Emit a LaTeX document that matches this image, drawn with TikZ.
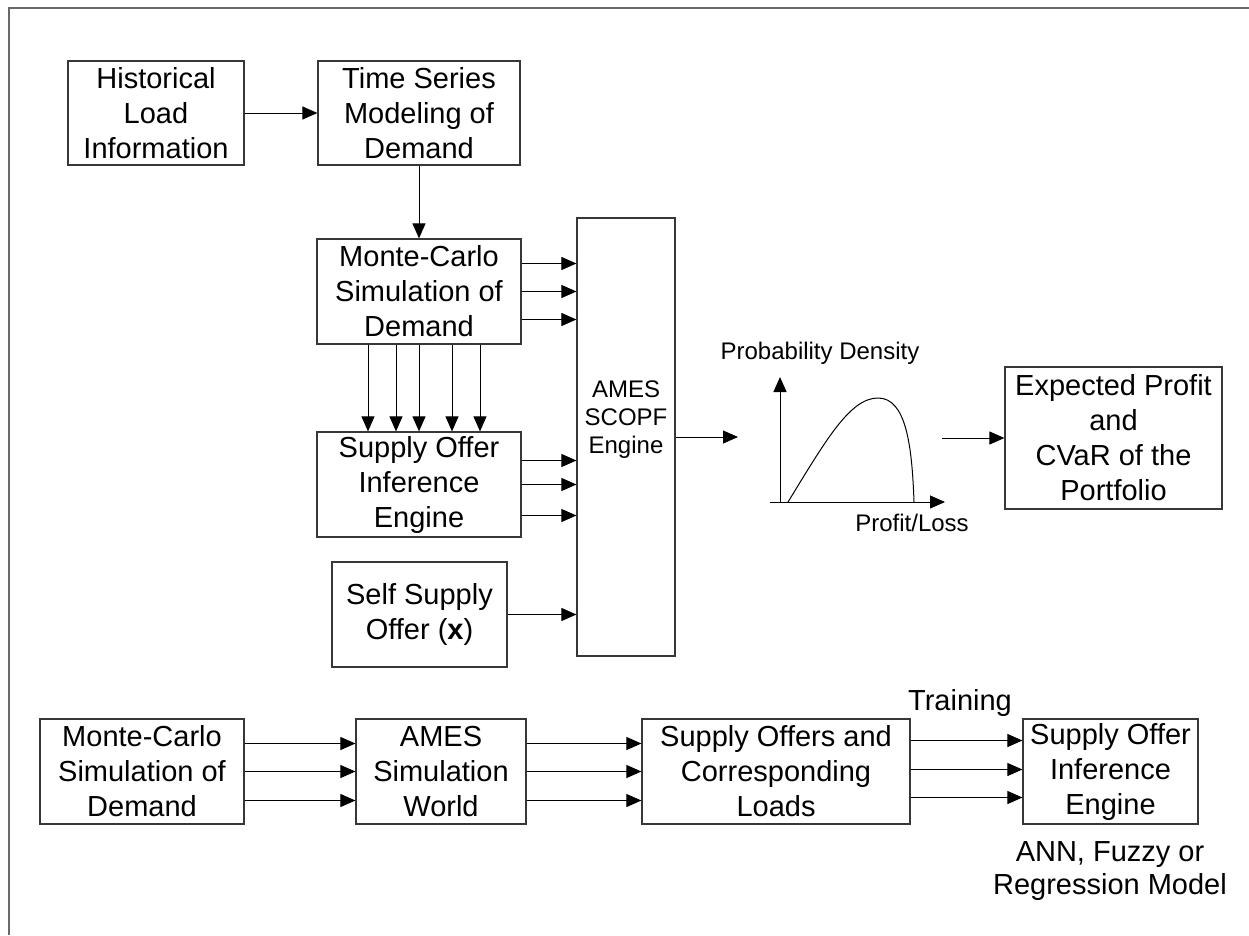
\documentclass[tikz,border=0pt]{standalone}
\usepackage{fontspec}
\setmainfont{Liberation Sans}
\usetikzlibrary{arrows.meta,positioning,calc}
\definecolor{BoxGray}{RGB}{55,55,55}
\definecolor{FrameGray}{RGB}{105,105,105}

\begin{document}
\begin{tikzpicture}[x=1pt, y=-1pt,
  blockbox/.style={draw=BoxGray, line width=1.2pt, align=center, inner sep=0pt,
                   font=\fontsize{29}{35}\selectfont},
  flowarrow/.style={-{Triangle[length=15pt,width=13pt]}, line width=1pt},
  bigtext/.style={align=center, inner sep=0pt, font=\fontsize{29}{33}\selectfont},
  smalltext/.style={align=center, inner sep=0pt, font=\fontsize{24}{28}\selectfont}]
  \useasboundingbox (0,0) rectangle (1249,935);
  % frame of the figure (cut at the right and bottom)
  \draw[FrameGray, line width=2pt] (9,935) -- (9,8) -- (1249,8);

  % upper chain
  \node[blockbox, minimum width=176pt, minimum height=104pt] (hist) at (156,113) {Historical\\Load\\Information};
  \node[blockbox, minimum width=202pt, minimum height=104pt] (tsm) at (419,113) {Time Series\\Modeling of\\Demand};
  \node[blockbox, minimum width=204pt, minimum height=105pt] (mc) at (419,291.5) {Monte-Carlo\\Simulation of\\Demand};
  \node[blockbox, minimum width=204pt, minimum height=105pt] (soie) at (419,484.5) {Supply Offer\\Inference\\Engine};
  \node[blockbox, minimum width=175pt, minimum height=105pt] (self) at (419.5,614.5) {Self Supply\\Offer (\textbf{x})};
  \node[blockbox, minimum width=98pt, minimum height=438pt] (ames) at (626,437) {};
  \node[smalltext] (amestext) at (626,420) {AMES\\SCOPF\\Engine};
  \node[blockbox, minimum width=217pt, minimum height=142pt] (exp) at (1113.5,438) {Expected Profit\\and\\CVaR of the\\Portfolio};

  \draw[flowarrow] (hist) -- (tsm);
  \draw[flowarrow] (tsm) -- (mc);
  \foreach \dy in {-28,0,28}
    \draw[flowarrow] ($(mc.east)+(0,\dy)$) -- ($(ames.west |- mc.east)+(0,\dy)$);
  \foreach \x in {368,396,419,452,480}
    \draw[flowarrow] (\x,0 |- mc.south) -- (\x,0 |- soie.north);
  \foreach \dy in {-24,0,31}
    \draw[flowarrow] ($(soie.east)+(0,\dy)$) -- ($(ames.west |- soie.east)+(0,\dy)$);
  \draw[flowarrow] (self.east) -- (self.east -| ames.west);

  % profit/loss density
  \coordinate (origin) at (780,502);
  \coordinate (ytip) at (780,377);
  \coordinate (xstart) at (770,502);
  \coordinate (xtip) at (945,502);
  \draw[flowarrow] (origin) -- (ytip);
  \draw[flowarrow] (xstart) -- (xtip);
  \draw[line width=1pt] (788,502) .. controls (826,440) and (850,398) .. (878,398)
                        .. controls (906,398) and (912,445) .. (914,502);
  \node[smalltext] (pdlabel) at (820,353) {Probability Density};
  \node[smalltext] (pllabel) at (912,523) {Profit/Loss};
  \coordinate (plotin) at (738,437);
  \coordinate (plotout) at (942,438);
  \draw[flowarrow] (ames.east) -- (plotin);
  \draw[flowarrow] (plotout) -- (exp.west);

  % training chain
  \node[blockbox, minimum width=204pt, minimum height=105pt] (mcb) at (142,771.5) {Monte-Carlo\\Simulation of\\Demand};
  \node[blockbox, minimum width=170pt, minimum height=105pt] (world) at (441,771.5) {AMES\\Simulation\\World};
  \node[blockbox, minimum width=268pt, minimum height=105pt] (offers) at (776,771.5) {Supply Offers and\\Corresponding\\Loads};
  \node[blockbox, minimum width=175pt, minimum height=105pt] (soieb) at (1110.5,771.5) {Supply Offer\\Inference\\Engine};
  \node[bigtext] (training) at (960,703) {Training};
  \node[bigtext] (model) at (1110,871) {ANN, Fuzzy or\\Regression Model};

  \foreach \dy in {-28,0,29} {
    \draw[flowarrow] ($(mcb.east)+(0,\dy)$) -- ($(world.west)+(0,\dy)$);
    \draw[flowarrow] ($(world.east)+(0,\dy)$) -- ($(offers.west)+(0,\dy)$);
  }
  \foreach \dy in {-31,-2,26}
    \draw[flowarrow] ($(offers.east)+(0,\dy)$) -- ($(soieb.west)+(0,\dy)$);
\end{tikzpicture}
\end{document}
